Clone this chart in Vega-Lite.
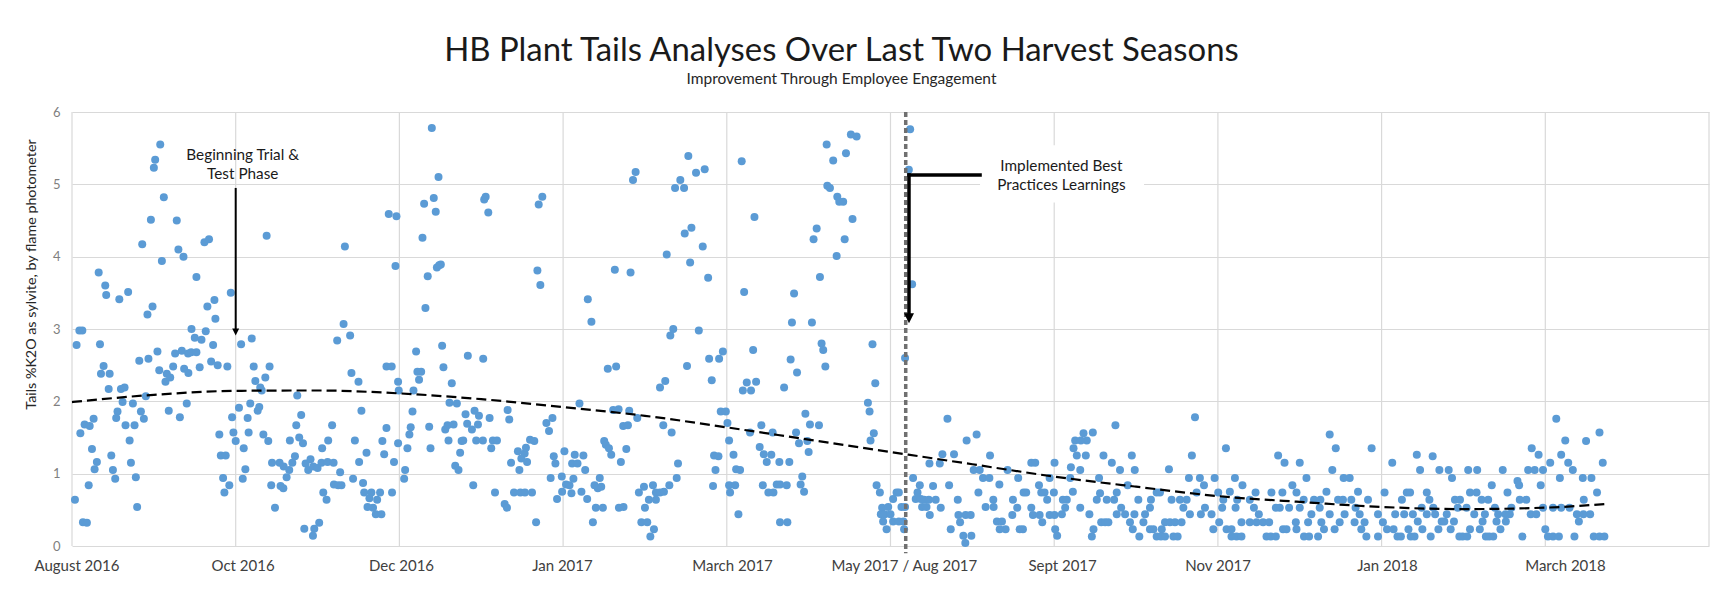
{
  "$schema": "https://vega.github.io/schema/vega-lite/v6.json",
  "autosize": {"type": "none"},
  "width": 1637,
  "height": 434,
  "padding": {"left": 72, "top": 112, "right": 21, "bottom": 66},
  "background": "white",
  "config": {"view": {"stroke": null}},
  "title": {
    "text": "HB Plant Tails Analyses Over Last Two Harvest Seasons",
    "subtitle": "Improvement Through Employee Engagement",
    "anchor": "middle",
    "frame": "group",
    "dx": -49,
    "offset": 19,
    "font": "Lato",
    "fontSize": 32.9,
    "fontWeight": "normal",
    "color": "#1a1a1a",
    "subtitleFont": "Lato",
    "subtitleFontSize": 15.5,
    "subtitleColor": "#262626",
    "subtitlePadding": 4
  },
  "datasets": {
    "grid": [{"t":0},{"t":1},{"t":2},{"t":3},{"t":4},{"t":5},{"t":6},{"t":7},{"t":8},{"t":9},{"t":10}],
    "trend": [
      {"t":0,"v":1.99},{"t":0.5,"v":2.09},{"t":1.0,"v":2.145},{"t":1.5,"v":2.15},{"t":2.0,"v":2.11},{"t":2.5,"v":2.03},{"t":3.0,"v":1.92},{"t":3.5,"v":1.80},{"t":4.0,"v":1.64},{"t":4.5,"v":1.47},{"t":5.0,"v":1.30},{"t":5.5,"v":1.13},{"t":6.0,"v":0.96},{"t":6.5,"v":0.82},{"t":7.0,"v":0.69},{"t":7.5,"v":0.61},{"t":8.0,"v":0.54},{"t":8.5,"v":0.51},{"t":9.0,"v":0.53},{"t":9.37,"v":0.58}
    ],
    "samples": [
      {"t":0.539,"v":5.55},{"t":0.508,"v":5.34},{"t":0.500,"v":5.23},{"t":0.561,"v":4.82},{"t":0.482,"v":4.51},{"t":0.640,"v":4.50},{"t":0.429,"v":4.17},{"t":0.650,"v":4.10},{"t":0.809,"v":4.20},{"t":0.837,"v":4.24},{"t":0.681,"v":4.00},{"t":0.549,"v":3.94},{"t":1.189,"v":4.29},{"t":1.667,"v":4.14},{"t":1.935,"v":4.59},{"t":1.982,"v":4.56},{"t":1.976,"v":3.87},{"t":0.163,"v":3.78},{"t":0.203,"v":3.60},{"t":0.209,"v":3.47},{"t":0.289,"v":3.41},{"t":0.343,"v":3.51},{"t":0.760,"v":3.72},{"t":0.461,"v":3.20},{"t":0.492,"v":3.31},{"t":0.827,"v":3.31},{"t":0.870,"v":3.40},{"t":0.876,"v":3.14},{"t":0.970,"v":3.50},{"t":1.659,"v":3.07},{"t":1.699,"v":2.91},{"t":1.620,"v":2.84},{"t":0.045,"v":2.98},{"t":0.063,"v":2.98},{"t":0.028,"v":2.78},{"t":0.171,"v":2.79},{"t":0.730,"v":3.00},{"t":0.817,"v":2.97},{"t":0.750,"v":2.88},{"t":0.791,"v":2.85},{"t":0.862,"v":2.78},{"t":1.033,"v":2.79},{"t":1.098,"v":2.87},{"t":0.193,"v":2.49},{"t":0.177,"v":2.38},{"t":0.230,"v":2.38},{"t":0.224,"v":2.17},{"t":0.299,"v":2.17},{"t":0.321,"v":2.19},{"t":0.411,"v":2.56},{"t":0.467,"v":2.59},{"t":0.522,"v":2.69},{"t":0.533,"v":2.43},{"t":0.579,"v":2.38},{"t":0.571,"v":2.27},{"t":0.600,"v":2.33},{"t":0.618,"v":2.48},{"t":0.630,"v":2.66},{"t":0.671,"v":2.70},{"t":0.709,"v":2.66},{"t":0.728,"v":2.68},{"t":0.760,"v":2.68},{"t":0.685,"v":2.45},{"t":0.711,"v":2.39},{"t":0.780,"v":2.47},{"t":0.850,"v":2.55},{"t":0.890,"v":2.50},{"t":0.949,"v":2.48},{"t":1.110,"v":2.48},{"t":1.207,"v":2.48},{"t":1.181,"v":2.33},{"t":1.120,"v":2.28},{"t":1.150,"v":2.19},{"t":1.159,"v":2.15},{"t":1.376,"v":2.08},{"t":1.707,"v":2.39},{"t":1.750,"v":2.27},{"t":1.921,"v":2.48},{"t":1.953,"v":2.48},{"t":1.992,"v":2.27},{"t":1.996,"v":2.15},{"t":0.309,"v":1.99},{"t":0.372,"v":1.97},{"t":0.451,"v":2.07},{"t":0.591,"v":1.87},{"t":0.659,"v":1.78},{"t":0.701,"v":1.97},{"t":0.278,"v":1.86},{"t":0.270,"v":1.77},{"t":0.421,"v":1.86},{"t":0.439,"v":1.76},{"t":0.132,"v":1.76},{"t":0.077,"v":1.68},{"t":0.108,"v":1.66},{"t":0.051,"v":1.56},{"t":0.327,"v":1.67},{"t":0.382,"v":1.67},{"t":0.352,"v":1.46},{"t":0.122,"v":1.34},{"t":0.152,"v":1.16},{"t":0.138,"v":1.06},{"t":0.240,"v":1.25},{"t":0.250,"v":1.05},{"t":0.264,"v":0.93},{"t":0.360,"v":1.15},{"t":0.390,"v":0.95},{"t":0.102,"v":0.84},{"t":0.018,"v":0.64},{"t":0.067,"v":0.33},{"t":0.091,"v":0.32},{"t":0.398,"v":0.54},{"t":0.978,"v":1.78},{"t":1.020,"v":1.91},{"t":1.089,"v":1.97},{"t":1.073,"v":1.77},{"t":1.134,"v":1.87},{"t":1.144,"v":1.92},{"t":0.986,"v":1.57},{"t":1.079,"v":1.57},{"t":1.169,"v":1.54},{"t":1.199,"v":1.45},{"t":0.900,"v":1.54},{"t":1.000,"v":1.45},{"t":1.049,"v":1.35},{"t":0.909,"v":1.25},{"t":0.939,"v":1.25},{"t":0.923,"v":0.94},{"t":0.931,"v":0.74},{"t":0.961,"v":0.84},{"t":1.043,"v":0.93},{"t":1.059,"v":1.06},{"t":1.222,"v":1.15},{"t":1.268,"v":1.15},{"t":1.217,"v":0.84},{"t":1.240,"v":0.53},{"t":1.274,"v":0.83},{"t":1.291,"v":0.80},{"t":1.293,"v":1.10},{"t":1.311,"v":0.95},{"t":1.327,"v":1.05},{"t":1.331,"v":1.46},{"t":1.346,"v":1.15},{"t":1.362,"v":1.24},{"t":1.370,"v":1.67},{"t":1.388,"v":1.50},{"t":1.400,"v":1.81},{"t":1.411,"v":1.42},{"t":1.427,"v":1.14},{"t":1.443,"v":1.05},{"t":1.457,"v":1.20},{"t":1.474,"v":1.10},{"t":1.500,"v":1.08},{"t":1.528,"v":1.35},{"t":1.535,"v":0.74},{"t":1.555,"v":0.64},{"t":1.524,"v":1.15},{"t":1.565,"v":1.46},{"t":1.589,"v":1.67},{"t":1.561,"v":1.16},{"t":1.598,"v":1.15},{"t":1.638,"v":1.02},{"t":1.600,"v":0.85},{"t":1.626,"v":0.84},{"t":1.646,"v":0.84},{"t":1.717,"v":0.93},{"t":1.728,"v":1.46},{"t":1.754,"v":1.16},{"t":1.768,"v":1.87},{"t":1.778,"v":0.87},{"t":1.799,"v":1.29},{"t":1.785,"v":0.74},{"t":1.817,"v":0.66},{"t":1.829,"v":0.74},{"t":1.839,"v":0.53},{"t":1.864,"v":0.64},{"t":1.882,"v":0.74},{"t":1.805,"v":0.54},{"t":1.856,"v":0.44},{"t":1.890,"v":0.44},{"t":1.896,"v":1.45},{"t":1.907,"v":1.27},{"t":1.921,"v":1.63},{"t":1.955,"v":0.74},{"t":1.967,"v":1.16},{"t":1.992,"v":1.42},{"t":1.419,"v":0.24},{"t":1.480,"v":0.24},{"t":1.510,"v":0.32},{"t":1.472,"v":0.14},
      {"t":2.198,"v":5.78},{"t":2.239,"v":5.10},{"t":2.151,"v":4.73},{"t":2.210,"v":4.81},{"t":2.222,"v":4.62},{"t":2.141,"v":4.26},{"t":2.173,"v":3.73},{"t":2.229,"v":3.85},{"t":2.243,"v":3.88},{"t":2.253,"v":3.89},{"t":2.159,"v":3.29},{"t":2.518,"v":4.79},{"t":2.527,"v":4.83},{"t":2.543,"v":4.61},{"t":2.851,"v":4.72},{"t":2.873,"v":4.83},{"t":2.843,"v":3.81},{"t":2.861,"v":3.61},{"t":3.151,"v":3.41},{"t":3.173,"v":3.10},{"t":3.427,"v":5.06},{"t":3.443,"v":5.17},{"t":3.684,"v":4.95},{"t":3.716,"v":5.06},{"t":3.739,"v":4.95},{"t":3.765,"v":5.39},{"t":3.812,"v":5.16},{"t":3.865,"v":5.21},{"t":3.743,"v":4.32},{"t":3.784,"v":4.40},{"t":3.853,"v":4.14},{"t":3.633,"v":4.03},{"t":3.776,"v":3.92},{"t":3.886,"v":3.71},{"t":3.316,"v":3.82},{"t":3.412,"v":3.78},{"t":3.673,"v":3.00},{"t":3.655,"v":2.91},{"t":3.829,"v":2.98},{"t":2.102,"v":2.69},{"t":2.261,"v":2.77},{"t":2.269,"v":2.47},{"t":2.320,"v":2.25},{"t":2.110,"v":2.41},{"t":2.133,"v":2.41},{"t":2.120,"v":2.30},{"t":2.086,"v":2.15},{"t":2.418,"v":2.63},{"t":2.512,"v":2.59},{"t":3.273,"v":2.45},{"t":3.324,"v":2.48},{"t":3.592,"v":2.19},{"t":3.624,"v":2.28},{"t":3.757,"v":2.49},{"t":3.908,"v":2.29},{"t":3.892,"v":2.59},{"t":3.953,"v":2.59},{"t":3.976,"v":2.69},{"t":2.080,"v":1.86},{"t":2.182,"v":1.65},{"t":2.190,"v":1.35},{"t":2.061,"v":1.54},{"t":2.069,"v":1.64},{"t":2.049,"v":1.35},{"t":2.035,"v":1.05},{"t":2.029,"v":0.93},{"t":2.306,"v":1.98},{"t":2.351,"v":1.97},{"t":2.280,"v":1.61},{"t":2.294,"v":1.67},{"t":2.331,"v":1.68},{"t":2.300,"v":1.46},{"t":2.404,"v":1.82},{"t":2.414,"v":1.69},{"t":2.443,"v":1.61},{"t":2.459,"v":1.87},{"t":2.486,"v":1.80},{"t":2.480,"v":1.68},{"t":2.551,"v":1.77},{"t":2.380,"v":1.45},{"t":2.371,"v":1.29},{"t":2.390,"v":1.46},{"t":2.469,"v":1.46},{"t":2.510,"v":1.46},{"t":2.571,"v":1.46},{"t":2.596,"v":1.46},{"t":2.561,"v":1.35},{"t":2.341,"v":1.11},{"t":2.361,"v":1.05},{"t":2.451,"v":0.84},{"t":2.661,"v":1.88},{"t":2.671,"v":1.75},{"t":2.682,"v":1.15},{"t":2.724,"v":1.31},{"t":2.765,"v":1.28},{"t":2.773,"v":1.36},{"t":2.745,"v":1.21},{"t":2.780,"v":1.16},{"t":2.733,"v":1.05},{"t":2.798,"v":1.47},{"t":2.824,"v":1.45},{"t":2.898,"v":1.70},{"t":2.935,"v":1.77},{"t":2.914,"v":1.59},{"t":2.584,"v":0.74},{"t":2.643,"v":0.58},{"t":2.657,"v":0.53},{"t":2.700,"v":0.74},{"t":2.739,"v":0.74},{"t":2.767,"v":0.74},{"t":2.810,"v":0.74},{"t":2.835,"v":0.33},{"t":2.924,"v":0.94},{"t":2.943,"v":1.24},{"t":2.953,"v":1.14},{"t":3.008,"v":1.31},{"t":2.992,"v":0.96},{"t":3.018,"v":0.85},{"t":3.039,"v":0.84},{"t":3.063,"v":0.93},{"t":2.963,"v":0.65},{"t":2.994,"v":0.75},{"t":3.051,"v":0.73},{"t":3.071,"v":1.26},{"t":3.124,"v":1.25},{"t":3.055,"v":1.14},{"t":3.088,"v":1.14},{"t":3.100,"v":1.97},{"t":3.135,"v":1.05},{"t":3.112,"v":0.75},{"t":3.147,"v":0.65},{"t":3.182,"v":0.33},{"t":3.200,"v":0.53},{"t":3.243,"v":0.53},{"t":3.192,"v":0.84},{"t":3.212,"v":0.80},{"t":3.233,"v":0.82},{"t":3.224,"v":0.94},{"t":3.251,"v":1.45},{"t":3.261,"v":1.40},{"t":3.280,"v":1.35},{"t":3.294,"v":1.26},{"t":3.353,"v":1.16},{"t":3.386,"v":1.34},{"t":3.367,"v":1.66},{"t":3.396,"v":1.67},{"t":3.306,"v":1.88},{"t":3.339,"v":1.89},{"t":3.404,"v":1.87},{"t":3.453,"v":1.77},{"t":3.341,"v":0.53},{"t":3.369,"v":0.54},{"t":3.463,"v":0.74},{"t":3.494,"v":0.82},{"t":3.478,"v":0.33},{"t":3.514,"v":0.33},{"t":3.555,"v":0.23},{"t":3.533,"v":0.13},{"t":3.500,"v":0.53},{"t":3.524,"v":0.64},{"t":3.549,"v":0.84},{"t":3.567,"v":0.74},{"t":3.592,"v":0.74},{"t":3.616,"v":0.75},{"t":3.567,"v":0.64},{"t":3.649,"v":0.84},{"t":3.694,"v":0.94},{"t":3.702,"v":1.14},{"t":3.612,"v":1.67},{"t":3.663,"v":1.57},{"t":3.916,"v":0.83},{"t":3.931,"v":1.05},{"t":3.922,"v":1.25},{"t":3.949,"v":1.24},{"t":3.963,"v":1.86},{"t":3.994,"v":1.86},{"t":4.004,"v":1.70},{"t":4.014,"v":1.46},{"t":4.014,"v":0.84},{"t":4.020,"v":0.74},
      {"t":4.091,"v":5.32},{"t":4.169,"v":4.55},{"t":4.610,"v":5.55},{"t":4.650,"v":5.33},{"t":4.728,"v":5.43},{"t":4.758,"v":5.69},{"t":4.793,"v":5.66},{"t":4.614,"v":4.98},{"t":4.630,"v":4.95},{"t":4.675,"v":4.83},{"t":4.687,"v":4.76},{"t":4.711,"v":4.76},{"t":4.768,"v":4.52},{"t":4.549,"v":4.39},{"t":4.530,"v":4.24},{"t":4.720,"v":4.24},{"t":4.671,"v":4.01},{"t":4.569,"v":3.72},{"t":4.106,"v":3.51},{"t":4.411,"v":3.49},{"t":4.398,"v":3.09},{"t":4.520,"v":3.09},{"t":4.579,"v":2.80},{"t":4.589,"v":2.71},{"t":4.602,"v":2.48},{"t":4.390,"v":2.58},{"t":4.429,"v":2.40},{"t":4.890,"v":2.79},{"t":4.907,"v":2.25},{"t":4.161,"v":2.71},{"t":4.122,"v":2.26},{"t":4.179,"v":2.27},{"t":4.098,"v":2.15},{"t":4.148,"v":2.15},{"t":4.350,"v":2.19},{"t":4.862,"v":1.98},{"t":4.872,"v":1.86},{"t":4.898,"v":1.56},{"t":4.878,"v":1.46},{"t":5.120,"v":5.76},{"t":5.112,"v":5.20},{"t":5.132,"v":3.62},{"t":5.089,"v":2.60},{"t":4.051,"v":0.84},{"t":4.071,"v":0.44},{"t":4.041,"v":1.26},{"t":4.057,"v":1.06},{"t":4.081,"v":1.05},{"t":4.142,"v":1.57},{"t":4.211,"v":1.67},{"t":4.280,"v":1.57},{"t":4.201,"v":1.37},{"t":4.226,"v":1.27},{"t":4.244,"v":1.16},{"t":4.272,"v":1.26},{"t":4.220,"v":0.84},{"t":4.254,"v":0.74},{"t":4.285,"v":0.74},{"t":4.305,"v":0.85},{"t":4.325,"v":0.85},{"t":4.366,"v":0.84},{"t":4.321,"v":1.16},{"t":4.382,"v":1.16},{"t":4.423,"v":1.57},{"t":4.441,"v":1.42},{"t":4.480,"v":1.83},{"t":4.492,"v":1.45},{"t":4.500,"v":1.30},{"t":4.508,"v":1.68},{"t":4.563,"v":1.67},{"t":4.461,"v":0.96},{"t":4.451,"v":0.85},{"t":4.472,"v":0.75},{"t":4.325,"v":0.33},{"t":4.370,"v":0.33},{"t":4.915,"v":0.84},{"t":4.935,"v":0.74},{"t":4.949,"v":0.53},{"t":4.941,"v":0.44},{"t":4.965,"v":0.44},{"t":4.986,"v":0.54},{"t":5.016,"v":0.65},{"t":5.037,"v":0.74},{"t":5.051,"v":0.74},{"t":5.000,"v":0.44},{"t":4.955,"v":0.34},{"t":4.976,"v":0.23},{"t":5.016,"v":0.34},{"t":5.051,"v":0.34},{"t":5.067,"v":0.54},{"t":5.083,"v":0.23},{"t":5.079,"v":0.34},{"t":5.089,"v":0.54},{"t":5.138,"v":0.94},{"t":5.179,"v":0.84},{"t":5.154,"v":0.65},{"t":5.185,"v":0.65},{"t":5.165,"v":0.74},{"t":5.205,"v":0.64},{"t":5.234,"v":0.64},{"t":5.193,"v":0.54},{"t":5.220,"v":0.54},{"t":5.240,"v":0.43},{"t":5.260,"v":0.83},{"t":5.276,"v":0.64},{"t":5.307,"v":0.53},{"t":5.238,"v":1.14},{"t":5.301,"v":1.14},{"t":5.317,"v":1.27},{"t":5.388,"v":1.27},{"t":5.348,"v":1.76},{"t":5.358,"v":0.84},{"t":5.411,"v":0.64},{"t":5.415,"v":0.43},{"t":5.425,"v":0.33},{"t":5.459,"v":0.43},{"t":5.490,"v":0.43},{"t":5.445,"v":0.14},{"t":5.494,"v":0.14},{"t":5.457,"v":0.04},{"t":5.368,"v":0.23},{"t":5.465,"v":1.46},{"t":5.526,"v":1.54},{"t":5.537,"v":0.74},{"t":5.508,"v":1.05},{"t":5.545,"v":1.05},{"t":5.565,"v":0.94},{"t":5.604,"v":0.94},{"t":5.608,"v":1.25},{"t":5.581,"v":0.54},{"t":5.630,"v":0.54},{"t":5.628,"v":0.64},{"t":5.665,"v":0.85},{"t":5.650,"v":0.34},{"t":5.681,"v":0.34},{"t":5.703,"v":0.23},{"t":5.667,"v":0.23},{"t":5.715,"v":1.05},{"t":5.748,"v":0.64},{"t":5.774,"v":0.53},{"t":5.780,"v":0.94},{"t":5.744,"v":0.43},{"t":5.809,"v":0.23},{"t":5.789,"v":0.23},{"t":5.813,"v":0.74},{"t":5.829,"v":0.74},{"t":5.860,"v":1.15},{"t":5.884,"v":1.15},{"t":5.860,"v":0.53},{"t":5.870,"v":0.43},{"t":5.907,"v":0.84},{"t":5.921,"v":0.74},{"t":5.941,"v":0.74},{"t":5.911,"v":0.43},{"t":5.927,"v":0.33},{"t":5.957,"v":0.64},{"t":5.972,"v":0.43},{"t":5.972,"v":0.94},{"t":6.002,"v":1.15},{"t":6.002,"v":0.43},{"t":6.006,"v":0.23},{"t":6.018,"v":0.14},{"t":5.998,"v":0.74},
      {"t":6.860,"v":1.78},{"t":6.374,"v":1.67},{"t":6.179,"v":1.56},{"t":6.199,"v":1.46},{"t":6.236,"v":1.57},{"t":7.683,"v":1.54},{"t":6.128,"v":1.46},{"t":6.163,"v":1.46},{"t":6.118,"v":1.35},{"t":6.138,"v":1.25},{"t":6.193,"v":1.25},{"t":6.301,"v":1.25},{"t":6.474,"v":1.25},{"t":7.049,"v":1.35},{"t":7.720,"v":1.35},{"t":7.939,"v":1.35},{"t":6.841,"v":1.25},{"t":7.368,"v":1.25},{"t":6.102,"v":1.09},{"t":6.159,"v":1.05},{"t":6.352,"v":1.15},{"t":6.402,"v":1.05},{"t":6.492,"v":1.05},{"t":6.701,"v":1.06},{"t":7.407,"v":1.15},{"t":7.500,"v":1.15},{"t":7.699,"v":1.05},{"t":6.274,"v":0.94},{"t":6.449,"v":0.84},{"t":6.823,"v":0.94},{"t":6.890,"v":0.94},{"t":6.980,"v":0.94},{"t":7.104,"v":0.94},{"t":7.541,"v":0.94},{"t":7.768,"v":0.94},{"t":7.805,"v":0.94},{"t":6.098,"v":0.94},{"t":6.114,"v":0.75},{"t":6.280,"v":0.73},{"t":6.382,"v":0.74},{"t":6.626,"v":0.74},{"t":6.646,"v":0.74},{"t":6.870,"v":0.74},{"t":6.915,"v":0.84},{"t":7.002,"v":0.74},{"t":7.073,"v":0.75},{"t":7.150,"v":0.84},{"t":7.230,"v":0.74},{"t":7.327,"v":0.74},{"t":7.394,"v":0.74},{"t":7.455,"v":0.84},{"t":7.480,"v":0.74},{"t":7.663,"v":0.75},{"t":7.856,"v":0.75},{"t":8.018,"v":0.74},{"t":6.053,"v":0.64},{"t":6.077,"v":0.64},{"t":6.260,"v":0.64},{"t":6.321,"v":0.64},{"t":6.366,"v":0.64},{"t":6.514,"v":0.64},{"t":6.591,"v":0.64},{"t":6.717,"v":0.64},{"t":6.768,"v":0.64},{"t":6.809,"v":0.64},{"t":7.033,"v":0.64},{"t":7.118,"v":0.64},{"t":7.195,"v":0.64},{"t":7.378,"v":0.53},{"t":7.435,"v":0.53},{"t":7.524,"v":0.64},{"t":7.587,"v":0.64},{"t":7.626,"v":0.64},{"t":7.734,"v":0.64},{"t":7.764,"v":0.64},{"t":7.815,"v":0.64},{"t":7.917,"v":0.64},{"t":6.067,"v":0.53},{"t":6.159,"v":0.53},{"t":6.409,"v":0.53},{"t":6.585,"v":0.53},{"t":6.789,"v":0.53},{"t":6.921,"v":0.53},{"t":7.026,"v":0.53},{"t":7.108,"v":0.53},{"t":7.220,"v":0.53},{"t":7.354,"v":0.53},{"t":7.500,"v":0.53},{"t":7.622,"v":0.53},{"t":7.841,"v":0.53},{"t":6.047,"v":0.44},{"t":6.215,"v":0.44},{"t":6.382,"v":0.44},{"t":6.433,"v":0.44},{"t":6.490,"v":0.44},{"t":6.555,"v":0.44},{"t":6.829,"v":0.44},{"t":6.896,"v":0.44},{"t":6.961,"v":0.44},{"t":7.250,"v":0.44},{"t":7.571,"v":0.44},{"t":7.683,"v":0.44},{"t":7.774,"v":0.44},{"t":7.866,"v":0.44},{"t":7.978,"v":0.44},{"t":6.287,"v":0.33},{"t":6.311,"v":0.33},{"t":6.331,"v":0.33},{"t":6.463,"v":0.33},{"t":6.545,"v":0.33},{"t":6.677,"v":0.33},{"t":6.707,"v":0.33},{"t":6.738,"v":0.33},{"t":6.778,"v":0.33},{"t":7.008,"v":0.33},{"t":7.144,"v":0.33},{"t":7.195,"v":0.33},{"t":7.236,"v":0.33},{"t":7.276,"v":0.33},{"t":7.313,"v":0.33},{"t":7.476,"v":0.33},{"t":7.551,"v":0.33},{"t":7.632,"v":0.33},{"t":7.744,"v":0.33},{"t":7.835,"v":0.33},{"t":7.896,"v":0.33},{"t":8.008,"v":0.33},{"t":6.240,"v":0.23},{"t":6.480,"v":0.23},{"t":6.585,"v":0.23},{"t":6.606,"v":0.23},{"t":6.657,"v":0.23},{"t":6.972,"v":0.23},{"t":7.053,"v":0.23},{"t":7.083,"v":0.23},{"t":7.398,"v":0.23},{"t":7.419,"v":0.23},{"t":7.480,"v":0.23},{"t":7.648,"v":0.23},{"t":7.713,"v":0.23},{"t":7.876,"v":0.23},{"t":8.033,"v":0.23},{"t":6.230,"v":0.13},{"t":6.520,"v":0.13},{"t":6.626,"v":0.13},{"t":6.652,"v":0.13},{"t":6.677,"v":0.13},{"t":6.728,"v":0.13},{"t":6.754,"v":0.13},{"t":7.083,"v":0.13},{"t":7.114,"v":0.13},{"t":7.144,"v":0.13},{"t":7.297,"v":0.13},{"t":7.323,"v":0.13},{"t":7.354,"v":0.13},{"t":7.526,"v":0.13},{"t":7.557,"v":0.13},{"t":7.612,"v":0.13},{"t":7.907,"v":0.13},{"t":7.978,"v":0.13},
      {"t":9.067,"v":1.76},{"t":9.122,"v":1.46},{"t":9.249,"v":1.45},{"t":9.331,"v":1.57},{"t":8.917,"v":1.35},{"t":8.959,"v":1.26},{"t":9.097,"v":1.26},{"t":9.030,"v":1.15},{"t":9.140,"v":1.15},{"t":9.168,"v":1.05},{"t":9.351,"v":1.15},{"t":8.065,"v":1.15},{"t":8.215,"v":1.26},{"t":8.312,"v":1.24},{"t":8.235,"v":1.05},{"t":8.353,"v":1.05},{"t":8.410,"v":1.05},{"t":8.430,"v":0.94},{"t":8.529,"v":1.05},{"t":8.584,"v":1.05},{"t":8.740,"v":1.05},{"t":8.895,"v":1.05},{"t":8.935,"v":1.05},{"t":8.986,"v":1.05},{"t":8.830,"v":0.90},{"t":8.840,"v":0.84},{"t":8.673,"v":0.84},{"t":9.089,"v":0.94},{"t":9.229,"v":0.94},{"t":9.282,"v":0.94},{"t":8.972,"v":0.84},{"t":9.316,"v":0.74},{"t":8.154,"v":0.74},{"t":8.174,"v":0.74},{"t":8.276,"v":0.74},{"t":8.540,"v":0.74},{"t":8.580,"v":0.74},{"t":8.769,"v":0.74},{"t":8.124,"v":0.64},{"t":8.292,"v":0.64},{"t":8.448,"v":0.64},{"t":8.479,"v":0.64},{"t":8.611,"v":0.64},{"t":8.651,"v":0.64},{"t":8.844,"v":0.64},{"t":8.884,"v":0.64},{"t":9.235,"v":0.64},{"t":8.245,"v":0.53},{"t":8.316,"v":0.53},{"t":8.465,"v":0.53},{"t":8.519,"v":0.53},{"t":8.692,"v":0.53},{"t":8.793,"v":0.53},{"t":8.986,"v":0.53},{"t":9.047,"v":0.53},{"t":9.097,"v":0.53},{"t":9.148,"v":0.53},{"t":8.083,"v":0.44},{"t":8.138,"v":0.44},{"t":8.191,"v":0.44},{"t":8.276,"v":0.44},{"t":8.327,"v":0.44},{"t":8.398,"v":0.44},{"t":8.566,"v":0.44},{"t":8.631,"v":0.44},{"t":8.712,"v":0.44},{"t":8.757,"v":0.44},{"t":8.783,"v":0.44},{"t":8.911,"v":0.44},{"t":8.945,"v":0.44},{"t":9.193,"v":0.44},{"t":9.233,"v":0.44},{"t":9.274,"v":0.44},{"t":8.221,"v":0.34},{"t":8.367,"v":0.34},{"t":8.383,"v":0.34},{"t":8.442,"v":0.34},{"t":8.617,"v":0.34},{"t":8.702,"v":0.34},{"t":8.759,"v":0.34},{"t":9.205,"v":0.34},{"t":8.073,"v":0.23},{"t":8.164,"v":0.23},{"t":8.249,"v":0.23},{"t":8.347,"v":0.23},{"t":8.422,"v":0.23},{"t":8.540,"v":0.23},{"t":8.600,"v":0.23},{"t":8.726,"v":0.23},{"t":9.000,"v":0.23},{"t":8.097,"v":0.13},{"t":8.118,"v":0.13},{"t":8.178,"v":0.13},{"t":8.201,"v":0.13},{"t":8.300,"v":0.13},{"t":8.475,"v":0.13},{"t":8.495,"v":0.13},{"t":8.523,"v":0.13},{"t":8.637,"v":0.13},{"t":8.657,"v":0.13},{"t":8.682,"v":0.13},{"t":8.860,"v":0.13},{"t":9.016,"v":0.13},{"t":9.047,"v":0.13},{"t":9.083,"v":0.13},{"t":9.178,"v":0.13},{"t":9.296,"v":0.13},{"t":9.331,"v":0.13},{"t":9.361,"v":0.13}
    ]
  },
  "layer": [
    {
      "data": {"name": "grid"},
      "mark": {"type": "rule", "color": "#d9d9d9", "strokeWidth": 1.2},
      "encoding": {
        "x": {"field": "t", "type": "quantitative", "scale": {"domain": [0, 10], "nice": false, "zero": false}}
      }
    },
    {
      "data": {"values": [{}]},
      "mark": {"type": "rect", "fill": "white"},
      "encoding": {
        "x": {"datum": 5.547, "type": "quantitative"},
        "x2": {"datum": 6.549},
        "y": {"datum": 5.54, "type": "quantitative"},
        "y2": {"datum": 4.75}
      }
    },
    {
      "data": {"name": "samples"},
      "mark": {"type": "circle", "color": "#5B9BD5", "opacity": 1, "size": 64},
      "encoding": {
        "x": {
          "field": "t", "type": "quantitative",
          "scale": {"domain": [0, 10], "nice": false, "zero": false},
          "axis": {
            "title": null,
            "values": [0.027, 1.042, 2.01, 2.993, 4.032, 5.082, 6.048, 6.998, 8.033, 9.12],
            "labelExpr": "datum.value < 0.5 ? 'August 2016' : datum.value < 1.5 ? 'Oct 2016' : datum.value < 2.5 ? 'Dec 2016' : datum.value < 3.5 ? 'Jan 2017' : datum.value < 4.5 ? 'March 2017' : datum.value < 5.5 ? 'May 2017 / Aug 2017' : datum.value < 6.5 ? 'Sept 2017' : datum.value < 7.5 ? 'Nov 2017' : datum.value < 8.5 ? 'Jan 2018' : 'March 2018'",
            "grid": false, "domain": false, "ticks": false,
            "labelPadding": 12.5, "labelFont": "Lato", "labelFontSize": 15, "labelColor": "#404040",
            "labelOverlap": false, "labelFlush": false, "labelBound": false
          }
        },
        "y": {
          "field": "v", "type": "quantitative",
          "scale": {"domain": [0, 6], "nice": false},
          "axis": {
            "title": "Tails %K2O as sylvite, by flame photometer",
            "values": [0, 1, 2, 3, 4, 5, 6],
            "format": "d",
            "grid": true, "gridColor": "#d9d9d9", "gridWidth": 1.2,
            "domain": false, "ticks": false,
            "labelPadding": 12, "labelFont": "Lato", "labelFontSize": 13, "labelColor": "#7f7f7f",
            "titleFont": "Lato", "titleFontSize": 14.3, "titleFontWeight": "normal", "titleColor": "#262626",
            "titleAngle": -90, "titleX": -41, "titleY": 162, "titleBaseline": "middle", "titleAlign": "center"
          }
        }
      }
    },
    {
      "data": {"name": "trend"},
      "mark": {"type": "line", "color": "black", "strokeWidth": 2.2, "strokeDash": [10, 5], "interpolate": "monotone"},
      "encoding": {
        "x": {"field": "t", "type": "quantitative"},
        "y": {"field": "v", "type": "quantitative"}
      }
    },
    {
      "data": {"values": [{}]},
      "mark": {"type": "rule", "color": "#707070", "strokeWidth": 3.5, "strokeDash": [5, 3]},
      "encoding": {
        "x": {"datum": 5.093, "type": "quantitative"},
        "y": {"datum": 6.0, "type": "quantitative"},
        "y2": {"datum": -0.1}
      }
    },
    {
      "data": {"values": [{}]},
      "mark": {"type": "rule", "color": "black", "strokeWidth": 2},
      "encoding": {
        "x": {"datum": 1.0, "type": "quantitative"},
        "y": {"datum": 4.95, "type": "quantitative"},
        "y2": {"datum": 3.0}
      }
    },
    {
      "data": {"values": [{}]},
      "mark": {"type": "point", "shape": "M-1,-1L1,-1L0,1Z", "filled": true, "color": "black", "opacity": 1, "size": 49},
      "encoding": {
        "x": {"datum": 1.0, "type": "quantitative"},
        "y": {"datum": 2.96, "type": "quantitative"}
      }
    },
    {
      "data": {"values": [{}]},
      "mark": {"type": "rule", "color": "black", "strokeWidth": 3.5, "strokeCap": "square"},
      "encoding": {
        "x": {"datum": 5.547, "type": "quantitative"},
        "x2": {"datum": 5.113},
        "y": {"datum": 5.13, "type": "quantitative"}
      }
    },
    {
      "data": {"values": [{}]},
      "mark": {"type": "rule", "color": "black", "strokeWidth": 3.5, "strokeCap": "square"},
      "encoding": {
        "x": {"datum": 5.113, "type": "quantitative"},
        "y": {"datum": 5.13, "type": "quantitative"},
        "y2": {"datum": 3.22}
      }
    },
    {
      "data": {"values": [{}]},
      "mark": {"type": "point", "shape": "M-1,-1L1,-1L0,1Z", "filled": true, "color": "black", "opacity": 1, "size": 100},
      "encoding": {
        "x": {"datum": 5.113, "type": "quantitative"},
        "y": {"datum": 3.148, "type": "quantitative"}
      }
    },
    {
      "data": {"values": [{}]},
      "mark": {"type": "text", "text": "Beginning Trial &\nTest Phase", "lineBreak": "\n", "lineHeight": 19, "font": "Lato", "fontSize": 15.3, "color": "#1a1a1a", "align": "center", "baseline": "middle"},
      "encoding": {
        "x": {"datum": 1.043, "type": "quantitative"},
        "y": {"datum": 5.41, "type": "quantitative"}
      }
    },
    {
      "data": {"values": [{}]},
      "mark": {"type": "text", "text": "Implemented Best\nPractices Learnings", "lineBreak": "\n", "lineHeight": 19, "font": "Lato", "fontSize": 15.3, "color": "#1a1a1a", "align": "center", "baseline": "middle"},
      "encoding": {
        "x": {"datum": 6.044, "type": "quantitative"},
        "y": {"datum": 5.25, "type": "quantitative"}
      }
    }
  ]
}
